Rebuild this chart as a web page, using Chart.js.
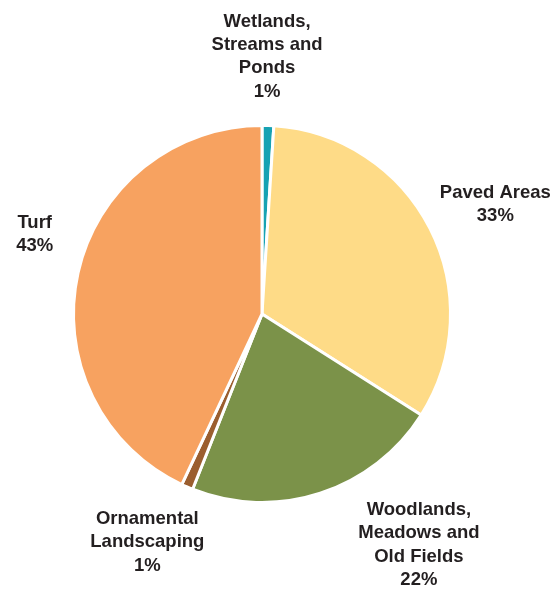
<!DOCTYPE html>
<html>
<head>
<meta charset="utf-8">
<script src="https://cdn.jsdelivr.net/npm/chart.js@4/dist/chart.umd.min.js"></script>
<style>
  html, body { margin: 0; padding: 0; background: #fff; }
  #wrap { width: 557px; height: 594px; position: relative; }
</style>
</head>
<body>
<div id="wrap"><canvas id="landUseChart"></canvas></div>
<script>
// land cover shares (percent), clockwise from 12 o'clock
const categories = [
    ['Wetlands,', 'Streams and', 'Ponds'],
    ['Paved Areas'],
    ['Woodlands,', 'Meadows and', 'Old Fields'],
    ['Ornamental', 'Landscaping'],
    ['Turf']
];
const shares = [1, 33, 22, 1, 43];
const sliceColors = ['#16a2b3', '#fedb87', '#7b9249', '#9b5e2f', '#f7a260'];

// label placement: distance past the rim, then a nudge per slice
const labelGap = 70;
const labelNudge = [[-3, 1], [3, 8], [77, -15], [-12, -9], [25, -23]];

const outsideLabels = {
    id: 'outsideLabels',
    afterDatasetsDraw(chart) {
        const ctx = chart.ctx;
        const meta = chart.getDatasetMeta(0);
        ctx.save();
        ctx.font = 'bold 18.5px "Liberation Sans", Arial, sans-serif';
        ctx.fillStyle = '#231f20';
        ctx.textAlign = 'center';
        ctx.textBaseline = 'middle';
        const lineH = 23.3;
        meta.data.forEach((arc, i) => {
            const mid = (arc.startAngle + arc.endAngle) / 2;
            const r = arc.outerRadius + labelGap;
            const cx = arc.x + Math.cos(mid) * r + labelNudge[i][0];
            const cy = arc.y + Math.sin(mid) * r + labelNudge[i][1];
            const lines = categories[i].concat([shares[i] + '%']);
            const top = cy - (lines.length - 1) * lineH / 2;
            lines.forEach((t, k) => ctx.fillText(t, cx, top + k * lineH));
        });
        ctx.restore();
    }
};

new Chart(document.getElementById('landUseChart'), {
    type: 'pie',
    data: {
        labels: categories.map(c => c.join(' ')),
        datasets: [{
            data: shares,
            backgroundColor: sliceColors,
            borderColor: '#ffffff',
            borderWidth: 3
        }]
    },
    options: {
        responsive: true,
        maintainAspectRatio: false,
        animation: false,
        layout: {
            padding: { left: 72, right: 105, top: 124, bottom: 90 }
        },
        plugins: {
            legend: { display: false },
            tooltip: { enabled: false }
        }
    },
    plugins: [outsideLabels]
});
</script>
</body>
</html>
